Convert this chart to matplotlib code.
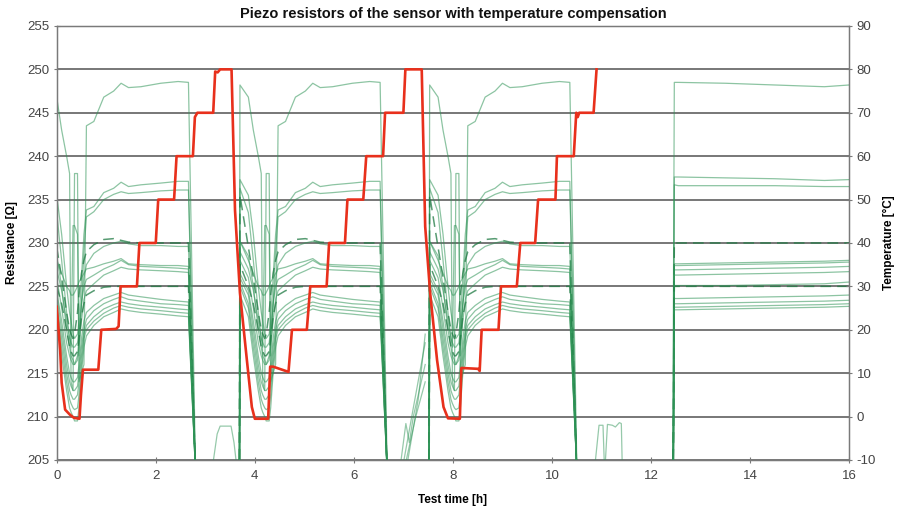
import numpy as np
import matplotlib
matplotlib.use("Agg")
import matplotlib.pyplot as plt

plt.rcParams['font.family'] = ['Liberation Sans', 'DejaVu Sans']
plt.rcParams['axes.unicode_minus'] = False

# ---------------- data ----------------
# relative cycle time grid (h) for the resistor profiles
cycle_tau = [-0.20, -0.17, 0.00, 0.10, 0.20, 0.26, 0.29, 0.33, 0.36, 0.42, 0.45, 0.50,
             0.55, 0.60, 0.75, 0.95, 1.15, 1.30, 1.45, 1.70, 2.10, 2.45, 2.66, 2.80, 2.95]
cycle_start = [0.0, 3.87, 7.70]

r01 = [150, 248.2, 246.8, 243.0, 240.0, 238.0, 214.0, 213.0, 238.0, 238.0, 214.0, 215.0, 216.0, 243.5, 244.0, 246.8, 247.5, 248.4, 247.9, 248.0, 248.4, 248.6, 248.5, 205, 150]
r02 = [150, 237.3, 235.5, 231.0, 225.0, 222.0, 221.0, 219.5, 219.0, 219.5, 221.0, 226.0, 231.0, 233.8, 234.2, 235.8, 236.3, 237.0, 236.5, 236.7, 236.9, 237.1, 237.1, 204, 150]
r03 = [150, 236.3, 233.5, 228.0, 222.0, 219.0, 218.0, 232.0, 232.0, 231.0, 217.0, 223.0, 229.0, 233.0, 233.6, 235.0, 235.6, 235.9, 235.7, 235.8, 236.0, 236.1, 236.1, 204, 150]
r04 = [150, 235.5, 229.5, 226.0, 222.0, 220.0, 219.5, 219.0, 219.5, 222.0, 224.0, 226.5, 228.0, 229.0, 229.8, 230.4, 230.5, 230.3, 230.1, 230.0, 230.0, 230.0, 230.0, 204, 150]
r05 = [150, 230.2, 228.5, 225.0, 220.0, 218.0, 217.0, 216.5, 216.0, 217.0, 219.0, 223.0, 226.0, 227.5, 228.8, 229.6, 230.0, 230.2, 229.9, 229.7, 229.7, 229.6, 229.6, 204, 150]
r06 = [150, 230.2, 228.0, 226.5, 225.0, 224.5, 224.0, 224.0, 224.3, 225.0, 225.5, 226.0, 226.5, 227.0, 227.2, 227.6, 227.9, 228.2, 227.6, 227.5, 227.4, 227.4, 227.3, 204, 150]
r07 = [150, 229.0, 227.0, 224.5, 221.0, 219.0, 218.5, 218.0, 218.0, 218.5, 220.0, 223.0, 225.0, 225.8, 226.3, 227.0, 227.5, 228.0, 227.5, 227.3, 227.2, 227.1, 227.0, 204, 150]
r08 = [150, 228.0, 226.0, 222.5, 218.5, 217.0, 216.5, 216.0, 216.0, 216.5, 218.0, 221.0, 223.5, 224.5, 225.3, 226.3, 226.8, 227.2, 227.0, 226.9, 226.8, 226.7, 226.6, 204, 150]
r09 = [150, 227.5, 225.0, 223.0, 220.0, 218.0, 217.5, 217.0, 217.0, 217.5, 219.0, 221.5, 223.0, 224.0, 224.5, 224.9, 225.0, 225.0, 225.0, 225.0, 225.0, 225.0, 225.0, 204, 150]
r10 = [150, 226.5, 224.5, 221.0, 217.0, 215.0, 214.5, 214.0, 214.0, 214.5, 216.0, 219.0, 221.0, 222.0, 222.8, 223.6, 224.0, 224.3, 224.0, 223.8, 223.5, 223.3, 223.2, 204, 150]
r11 = [150, 226.0, 224.0, 220.0, 216.0, 214.0, 213.5, 213.0, 213.0, 213.5, 215.0, 218.0, 220.0, 221.2, 222.2, 223.0, 223.5, 223.8, 223.5, 223.3, 223.0, 222.9, 222.8, 204, 150]
r12 = [150, 225.5, 223.0, 219.0, 215.0, 213.0, 212.5, 212.0, 212.0, 212.5, 214.0, 217.0, 219.5, 220.5, 221.5, 222.4, 222.9, 223.2, 223.0, 222.8, 222.6, 222.4, 222.3, 204, 150]
r13 = [150, 225.0, 222.5, 218.0, 214.0, 212.0, 211.5, 211.0, 210.8, 211.0, 212.5, 216.0, 219.0, 220.0, 221.0, 221.9, 222.5, 222.8, 222.6, 222.4, 222.2, 222.0, 221.9, 204, 150]
r14 = [150, 224.0, 221.5, 217.0, 213.0, 211.0, 210.5, 210.0, 209.5, 209.5, 211.0, 215.0, 218.0, 219.3, 220.5, 221.5, 222.0, 222.4, 222.2, 222.0, 221.8, 221.6, 221.5, 204, 150]

# final hold period
final_time = [12.40, 12.47, 12.55, 13.5, 14.5, 15.5, 16.0]
f01 = [150, 248.5, 248.5, 248.4, 248.2, 248.0, 248.2]
f02 = [150, 237.6, 237.6, 237.5, 237.4, 237.2, 237.3]
f03 = [150, 236.7, 236.6, 236.6, 236.6, 236.5, 236.5]
f04 = [150, 230.0, 230.0, 230.0, 230.0, 230.0, 230.0]
f05 = [150, 227.4, 227.4, 227.5, 227.6, 227.7, 227.8]
f06 = [150, 227.6, 227.6, 227.7, 227.8, 227.9, 228.0]
f07 = [150, 226.9, 226.9, 227.0, 227.1, 227.2, 227.3]
f08 = [150, 226.3, 226.3, 226.4, 226.5, 226.6, 226.7]
f09 = [150, 225.0, 225.0, 225.0, 225.0, 225.0, 225.0]
f10 = [150, 225.1, 225.1, 225.1, 225.2, 225.3, 225.5]
f11 = [150, 223.6, 223.6, 223.7, 223.8, 223.9, 224.0]
f12 = [150, 223.0, 223.0, 223.1, 223.2, 223.3, 223.4]
f13 = [150, 222.6, 222.6, 222.7, 222.8, 222.9, 223.0]
f14 = [150, 222.3, 222.3, 222.4, 222.5, 222.6, 222.7]

# short traces seen while the resistors are off-scale
gap1_time = [3.14, 3.24, 3.30, 3.52, 3.58, 3.64]
gap1_res = [204, 208.0, 208.9, 208.9, 207.0, 204]
gap2a_time = [6.93, 7.05, 7.12, 7.20, 7.44]
gap2a_res = [204, 209.2, 207.0, 210.0, 216.0]
gap2b_time = [6.98, 7.20, 7.44]
gap2b_res = [204, 211.0, 218.5]
gap2c_time = [7.02, 7.25, 7.44]
gap2c_res = [204, 210.0, 214.0]
gap2d_time = [7.06, 7.30, 7.44]
gap2d_res = [204, 212.0, 219.5]
gap3a_time = [10.86, 10.95, 11.03, 11.06]
gap3a_res = [204, 209.0, 209.0, 204]
gap3b_time = [11.07, 11.12, 11.22, 11.28, 11.36, 11.40, 11.42]
gap3b_res = [204, 209.1, 209.0, 208.8, 209.3, 209.2, 204]

# temperature (right axis, °C)
temp_time = [0.00, 0.02, 0.07, 0.10, 0.17, 0.27, 0.35, 0.46, 0.49, 0.53,
             0.84, 0.90, 1.20, 1.25, 1.29, 1.62, 1.67, 2.00, 2.05, 2.37,
             2.42, 2.75, 2.79, 2.84, 3.16, 3.20, 3.25, 3.30, 3.53, 3.60,
             3.70, 3.84, 3.94, 4.00, 4.27, 4.31, 4.37, 4.68, 4.75, 5.05,
             5.12, 5.45, 5.50, 5.82, 5.87, 6.19, 6.25, 6.59, 6.63, 7.00,
             7.04, 7.37, 7.44, 7.54, 7.68, 7.81, 7.90, 8.14, 8.17, 8.51,
             8.54, 8.58, 8.92, 8.97, 9.29, 9.36, 9.66, 9.72, 10.07, 10.10,
             10.44, 10.49, 10.52, 10.55, 10.84, 10.90]
temp_value = [25.3, 22.5, 15.3, 7.8, 1.6, 0.4, -0.3, -0.5, 5.0, 10.8,
              10.8, 20.0, 20.2, 20.8, 30.0, 30.0, 40.0, 40.0, 50.0, 50.0,
              60.0, 60.0, 69.0, 70.0, 70.0, 79.5, 79.3, 80.0, 80.0, 47.6,
              28.5, 13.0, 2.2, -0.5, -0.5, 11.5, 11.5, 10.3, 20.0, 20.0,
              30.0, 30.0, 40.0, 40.0, 50.0, 50.0, 60.0, 60.0, 70.0, 70.0,
              80.0, 80.0, 43.8, 28.5, 13.0, 2.2, -0.4, -0.5, 11.2, 11.0,
              10.5, 20.0, 20.0, 30.0, 30.0, 40.0, 40.0, 50.0, 50.0, 60.0,
              60.0, 70.0, 69.0, 70.0, 70.0, 80.0]

x_ticks = [0, 2, 4, 6, 8, 10, 12, 14, 16]
res_ticks = [205, 210, 215, 220, 225, 230, 235, 240, 245, 250, 255]
temp_ticks = [-10, 0, 10, 20, 30, 40, 50, 60, 70, 80, 90]

# ---------------- plotting ----------------
fig = plt.figure(figsize=(9.0, 5.09), dpi=100)
ax = fig.add_axes([0.063, 0.0963, 0.8805, 0.8527])

profiles = [r01, r02, r03, r04, r05, r06, r07, r08, r09, r10, r11, r12, r13, r14]
finals = [f01, f02, f03, f04, f05, f06, f07, f08, f09, f10, f11, f12, f13, f14]
dashed = {3, 8}

green = '#2f9457'
for i, (prof, fin) in enumerate(zip(profiles, finals)):
    ts, vs = [], []
    for k, s in enumerate(cycle_start):
        start_idx = 2 if k == 0 else 0
        for tau, v in zip(cycle_tau[start_idx:], prof[start_idx:]):
            ts.append(s + tau)
            vs.append(v)
    ts += final_time
    vs += fin
    if i in dashed:
        ax.plot(ts, vs, color='#1f7a43', lw=1.1, alpha=0.75,
                dashes=(7, 4), zorder=3)
    else:
        ax.plot(ts, vs, color=green, lw=0.9, alpha=0.55, zorder=3)

for gt, gr in [(gap1_time, gap1_res), (gap2a_time, gap2a_res), (gap2b_time, gap2b_res),
               (gap2c_time, gap2c_res), (gap2d_time, gap2d_res),
               (gap3a_time, gap3a_res), (gap3b_time, gap3b_res)]:
    ax.plot(gt, gr, color=green, lw=0.9, alpha=0.5, zorder=3)

ax.set_xlim(0, 16)
ax.set_ylim(205, 255)
ax.set_xticks(x_ticks)
ax.set_yticks(res_ticks)
for y in res_ticks:
    ax.axhline(y, color='#606060', lw=1.2, zorder=1)

for sp in ax.spines.values():
    sp.set_color('#7a7a7a')
    sp.set_linewidth(1.0)

ax.tick_params(axis='both', direction='inout', length=5, color='#7a7a7a',
               labelsize=9.5, labelcolor='#444444')
ax.tick_params(axis='x', pad=5)
ax.tick_params(axis='y', pad=3)

ax2 = ax.twinx()
ax2.set_ylim(-10, 90)
ax2.set_yticks(temp_ticks)
ax2.plot(temp_time, temp_value, color='#e8301c', lw=1.9, zorder=4)
ax2.tick_params(axis='y', direction='inout', length=5, color='#7a7a7a',
                labelsize=9.5, labelcolor='#444444', pad=3)
for sp in ax2.spines.values():
    sp.set_color('#7a7a7a')

ax.set_title('Piezo resistors of the sensor with temperature compensation',
             fontsize=10.5, fontweight='bold', pad=6, color='#111111')
ax.set_xlabel('Test time [h]', fontsize=8.5, fontweight='bold', labelpad=8)
ax.set_ylabel('Resistance [Ω]', fontsize=8.5, fontweight='bold', labelpad=6)
ax2.set_ylabel('Temperature [°C]', fontsize=8.5, fontweight='bold', labelpad=5)

fig.savefig('out.png', dpi=100)
